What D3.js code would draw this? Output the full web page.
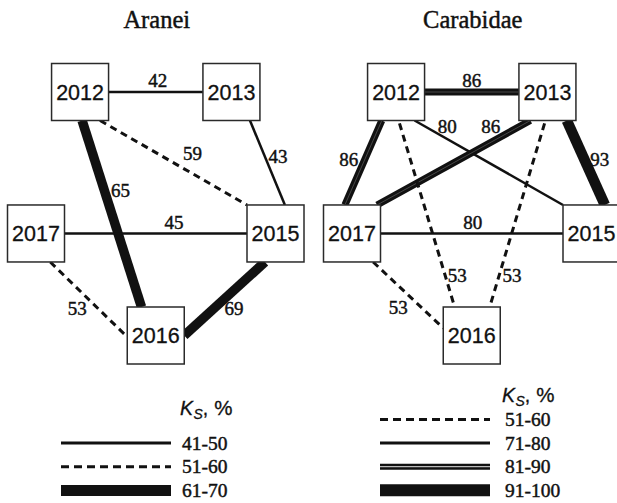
<!DOCTYPE html>
<html><head><meta charset="utf-8">
<script src="https://cdn.jsdelivr.net/npm/d3@7"></script>
<style>body{margin:0;background:#fff}svg{display:block}
.serif{font-family:'Liberation Serif','Times New Roman',Times,serif;stroke:#111;stroke-width:0.45px}
.sans{font-family:'Liberation Sans',Arial,Helvetica,sans-serif;stroke:#111;stroke-width:0.3px}
</style>
</head><body>
<svg id="c" width="617" height="503"></svg>
<script>
// ---------- data ----------
const panelTitles = ["Aranei", "Carabidae"];
const years = ["2012", "2013", "2017", "2015", "2016"];
const araneiLinks = [
  ["2012", "2013", 42], ["2012", "2015", 59], ["2013", "2015", 43], ["2012", "2016", 65],
  ["2017", "2015", 45], ["2017", "2016", 53], ["2015", "2016", 69]
];
const carabidaeLinks = [
  ["2012", "2013", 86], ["2012", "2017", 86], ["2012", "2015", 80], ["2013", "2017", 86],
  ["2013", "2015", 93], ["2012", "2016", 53], ["2013", "2016", 53], ["2017", "2015", 80],
  ["2017", "2016", 53]
];
const araneiClasses = ["41-50", "51-60", "61-70"];
const carabidaeClasses = ["51-60", "71-80", "81-90", "91-100"];

// ---------- layout (relative units) ----------
const nodeLayout = { "2012": [0.184, 0], "2013": [0.816, 0], "2017": [0, 0.581], "2015": [1, 0.581], "2016": [0.5, 1] };
// endpoint anchors on box sides (half-box units) and label placement [t, dx, dy]
const araneiAnchors = {
  "2012-2013": [[1, 0], [-1, 0], [0.52, 0, -12]],
  "2012-2015": [[0.7, 1], [-1, -1], [0.63, 0, -20]],
  "2013-2015": [[0.65, 1], [0.33, -1], [0.43, 13, 0]],
  "2012-2016": [[0.07, 1], [-0.5, -1], [0.376, 16, 0]],
  "2017-2015": [[1, 0], [-1, 0], [0.6, 0, -11]],
  "2017-2016": [[0.5, 1], [-1, 0.05], [0.5, -11.5, 8.5]],
  "2015-2016": [[-0.37, 1], [1, 0], [0.5, 9.5, 10]]
};
const carabidaeAnchors = {
  "2012-2013": [[1, 0], [-1, 0], [0.5, 0, -12]],
  "2012-2017": [[-0.5, 1], [-0.25, -1], [0.46, -16, 0]],
  "2012-2015": [[0.65, 1], [-1, -1], [0.2, 3, -11]],
  "2013-2017": [[-0.6, 1], [0.88, -1], [0.2, -9, -11]],
  "2013-2015": [[0.68, 1], [0.47, -1], [0.46, 15.5, 0]],
  "2012-2016": [[0.12, 1.1], [-0.6, -1], [0.83, 12, 0]],
  "2013-2016": [[-0.1, 1.1], [0.63, -1], [0.83, 13, 0]],
  "2017-2015": [[1, 0], [-1, 0], [0.5, 1, -11]],
  "2017-2016": [[0.74, 1], [-1, -0.26], [0.5, -10, 12]]
};

const svg = d3.select("#c");
const H = 28.5; // half box size
const INK = "#111";

function styleOf(v) {
  if (v <= 50) return "solid";
  if (v <= 60) return "dashed";
  if (v <= 70) return "thick";
  if (v <= 80) return "solid";
  if (v <= 90) return "double";
  return "heavy";
}

function drawSeg(g, x1, y1, x2, y2, style, legend) {
  const base = g.append("line").attr("x1", x1).attr("y1", y1).attr("x2", x2).attr("y2", y2)
    .attr("stroke", INK).attr("stroke-linecap", "butt");
  if (style === "solid") base.attr("stroke-width", legend ? 3 : 2.5);
  else if (style === "dashed") base.attr("stroke-width", 3).attr("stroke-dasharray", legend ? "8,5" : "7,5");
  else if (style === "thick") base.attr("stroke-width", legend ? 11 : 9.5);
  else if (style === "heavy") base.attr("stroke-width", legend ? 12 : 10.5);
  else if (style === "double") {
    base.attr("stroke-width", legend ? 6 : 7);
    g.append("line").attr("x1", x1).attr("y1", y1).attr("x2", x2).attr("y2", y2)
      .attr("stroke", legend ? "#bbb" : "#555").attr("stroke-width", legend ? 1.3 : 0.8);
  }
}

function drawPanel(idx, links, anchors, xRange) {
  const x = d3.scaleLinear().domain([0, 1]).range(xRange);
  const y = d3.scaleLinear().domain([0, 1]).range([92, 335.5]);
  const g = svg.append("g");
  const cx = k => x(nodeLayout[k][0]);
  const cy = k => y(nodeLayout[k][1]);

  g.append("text").attr("class", "serif").attr("x", x(0.5) + 1).attr("y", 28).attr("text-anchor", "middle")
    .attr("font-size", 24.5).attr("fill", INK).text(panelTitles[idx]);

  const eg = g.append("g");
  const lg = g.append("g");
  links.forEach(([s, t, v]) => {
    const a = anchors[s + "-" + t];
    const x1 = cx(s) + a[0][0] * H, y1 = cy(s) + a[0][1] * H;
    const x2 = cx(t) + a[1][0] * H, y2 = cy(t) + a[1][1] * H;
    drawSeg(eg, x1, y1, x2, y2, styleOf(v), false);
    const [tt, ox, oy] = a[2];
    lg.append("text").attr("class", "serif")
      .attr("x", x1 + (x2 - x1) * tt + ox).attr("y", y1 + (y2 - y1) * tt + oy)
      .attr("dy", "0.35em").attr("text-anchor", "middle")
      .attr("font-size", 19).attr("fill", INK).text(v);
  });

  const ng = g.append("g").selectAll("g").data(years).join("g")
    .attr("transform", d => `translate(${cx(d)},${cy(d)})`);
  ng.append("rect").attr("x", -H).attr("y", -H).attr("width", 2 * H).attr("height", 2 * H)
    .attr("fill", "#fff").attr("stroke", "#2a2a2a").attr("stroke-width", 1.5);
  ng.append("text").attr("class", "sans").attr("text-anchor", "middle").attr("dy", "0.36em")
    .attr("font-size", 21.5).attr("fill", INK).text(d => d);
  g.node().appendChild(lg.node());
}

drawPanel(0, araneiLinks, araneiAnchors, [36, 275.5]);
drawPanel(1, carabidaeLinks, carabidaeAnchors, [352, 591.5]);

function drawLegend(classes, x0, x1, yStart, step, labelX, ksX, ksY) {
  const g = svg.append("g");
  const ks = g.append("text").attr("class", "sans").attr("x", ksX).attr("y", ksY)
    .attr("font-size", 19.5).attr("fill", INK);
  ks.append("tspan").attr("font-style", "italic").text("K");
  ks.append("tspan").attr("font-style", "italic").attr("font-size", 14).attr("dy", 4).attr("dx", 0.5).text("S");
  ks.append("tspan").attr("dy", -4).text(",");
  ks.append("tspan").attr("dx", 6).attr("font-size", 20.5).text("%");
  const yy = d3.scaleLinear().domain([0, 1]).range([yStart, yStart + step]);
  classes.forEach((c, i) => {
    const lo = +c.split("-")[0];
    const yv = yy(i);
    drawSeg(g, x0, yv, x1, yv, styleOf(lo), true);
    g.append("text").attr("class", "serif").attr("x", labelX).attr("y", yv + 6.5)
      .attr("font-size", 19.5).attr("fill", INK).text(c);
  });
}
drawLegend(araneiClasses, 61, 171, 443, 23.75, 182, 180, 415);
drawLegend(carabidaeClasses, 380, 490, 419.5, 23.6, 505, 502, 402);
</script>
</body></html>
